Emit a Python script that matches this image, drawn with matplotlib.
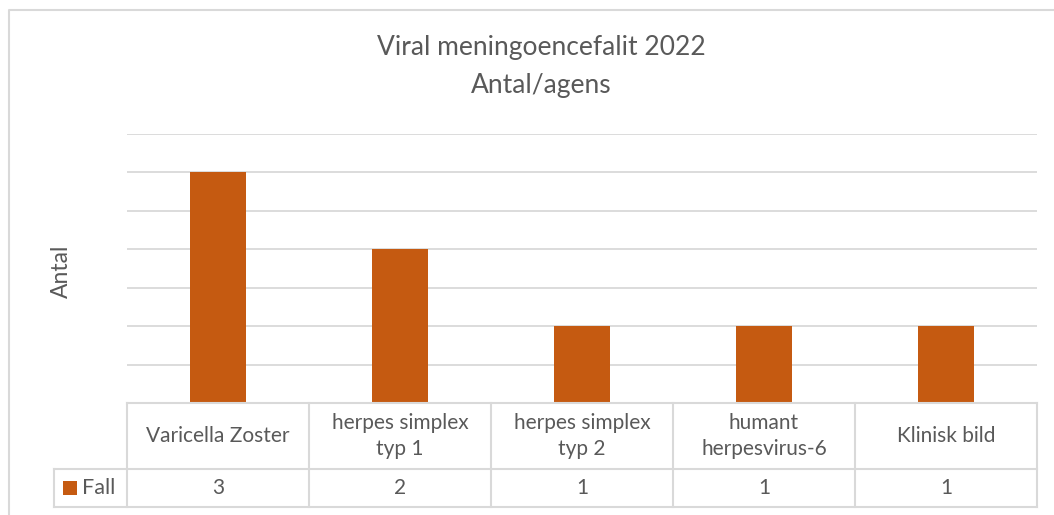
import matplotlib.pyplot as plt
from matplotlib.lines import Line2D
from matplotlib.patches import Rectangle
import matplotlib.transforms as mtransforms

plt.rcParams['font.family'] = ['Lato', 'DejaVu Sans']

# data
categories = ['Varicella Zoster', 'herpes simplex\ntyp 1', 'herpes simplex\ntyp 2',
              'humant\nherpesvirus-6', 'Klinisk bild']
values = [3, 2, 1, 1, 1]
series_name = 'Fall'
title_lines = ['Viral meningoencefalit 2022', 'Antal/agens']
y_label = 'Antal'

W, H = 1054, 515
bar_color = '#C55A11'
grid_color = '#D9D9D9'
text_color = '#595959'


def fx(px):
    return px / W


def fy(py):
    return 1 - py / H


fig = plt.figure(figsize=(W / 100, H / 100), dpi=100)
fig.patch.set_facecolor('white')

# outer chart border (only left and top visible in the crop)
fig.add_artist(Line2D([fx(9), fx(9), fx(1054)], [fy(515), fy(10), fy(10)],
                      transform=fig.transFigure, color=grid_color, lw=1.5))

left, right, top, bottom = 127, 1037, 134, 403
ax = fig.add_axes([fx(left), fy(bottom), fx(right) - fx(left), (bottom - top) / H])
x = list(range(len(categories)))
ax.bar(x, values, width=0.31, color=bar_color, zorder=3)
ax.set_xlim(-0.5, len(categories) - 0.5)
ax.set_ylim(0, 3.5)
ax.set_yticks([i * 0.5 for i in range(8)])
ax.yaxis.grid(True, color=grid_color, lw=1.3)
ax.set_axisbelow(True)
ax.tick_params(left=False, bottom=False, labelleft=False, labelbottom=False)
for s in ax.spines.values():
    s.set_visible(False)

# title and axis label
fig.text(fx(541), fy(48), title_lines[0], ha='center', va='center',
         fontsize=19, color=text_color)
fig.text(fx(541), fy(86), title_lines[1], ha='center', va='center',
         fontsize=19, color=text_color)
fig.text(fx(61), fy(271), y_label, ha='center', va='center', rotation=90,
         fontsize=16.5, color=text_color)

# data table below the plot
row1 = -(469 - bottom) / (bottom - top)
row2 = -(507 - bottom) / (bottom - top)
blend = mtransforms.blended_transform_factory(ax.transData, ax.transAxes)
lw_tab = 1.5
for b in [i - 0.5 for i in range(len(categories) + 1)]:
    ax.add_line(Line2D([b, b], [0, row2], transform=blend, color=grid_color,
                       lw=lw_tab, clip_on=False))
fig.add_artist(Line2D([fx(left), fx(right)], [fy(bottom), fy(bottom)],
                      transform=fig.transFigure, color=grid_color, lw=lw_tab))
fig.add_artist(Line2D([fx(54), fx(right)], [fy(469), fy(469)],
                      transform=fig.transFigure, color=grid_color, lw=lw_tab))
fig.add_artist(Line2D([fx(54), fx(right)], [fy(507), fy(507)],
                      transform=fig.transFigure, color=grid_color, lw=lw_tab))
fig.add_artist(Line2D([fx(54), fx(54)], [fy(469), fy(507)],
                      transform=fig.transFigure, color=grid_color, lw=lw_tab))

for i, (c, v) in enumerate(zip(categories, values)):
    ax.text(i, (0 + row1) / 2, c, transform=blend, ha='center', va='center',
            fontsize=15, color=text_color, linespacing=1.32)
    ax.text(i, (row1 + row2) / 2, str(v), transform=blend, ha='center',
            va='center', fontsize=15, color=text_color)

fig.add_artist(Rectangle((fx(63), fy(495)), fx(14), 14 / H, transform=fig.transFigure,
                         facecolor=bar_color, edgecolor='none'))
fig.text(fx(82), fy(488), series_name, ha='left', va='center', fontsize=15.5,
         color=text_color)

fig.savefig('out.png', dpi=100)
